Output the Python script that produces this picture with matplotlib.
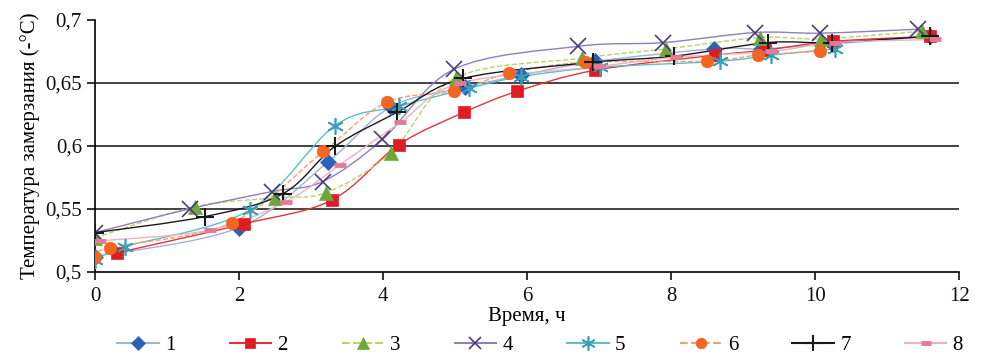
import matplotlib
matplotlib.use('Agg')
import matplotlib.pyplot as plt
from matplotlib.path import Path
from matplotlib.patches import PathPatch
from matplotlib.lines import Line2D
from matplotlib.ticker import FuncFormatter

plt.rcParams['font.family'] = ['Liberation Serif', 'DejaVu Serif']

# Данные (время, ч / температура замерзания, -°C)
x1 = [0, 2.0, 3.24, 4.11, 5.13, 5.92, 6.94, 8.59, 9.24, 10.25, 11.6]
y1 = [0.512, 0.535, 0.5875, 0.631, 0.6465, 0.656, 0.667, 0.677, 0.677, 0.681, 0.687]

x2 = [0.31, 2.07, 3.29, 4.22, 5.12, 5.86, 6.94, 8.61, 9.3, 10.25, 11.6]
y2 = [0.515, 0.538, 0.557, 0.601, 0.6265, 0.6433, 0.660, 0.672, 0.676, 0.683, 0.687]

x3 = [0, 1.39, 2.5, 3.21, 4.11, 5.01, 6.76, 7.93, 9.23, 10.08, 11.48]
y3 = [0.527, 0.5516, 0.5587, 0.5628, 0.5946, 0.654, 0.6696, 0.677, 0.686, 0.685, 0.691]

x4 = [0, 1.32, 2.45, 3.16, 3.99, 4.99, 6.70, 7.89, 9.17, 10.07, 11.42]
y4 = [0.531, 0.55, 0.5636, 0.5716, 0.605, 0.661, 0.679, 0.682, 0.690, 0.6895, 0.6926]

x5 = [0, 0.41, 2.15, 3.33, 4.22, 5.19, 5.92, 7.01, 8.68, 9.38, 10.28]
y5 = [0.509, 0.5197, 0.549, 0.616, 0.6314, 0.6457, 0.655, 0.6624, 0.6672, 0.672, 0.677]

x6 = [0, 0.2, 1.9, 3.17, 4.05, 4.99, 5.75, 6.8, 8.49, 9.2, 10.07]
y6 = [0.512, 0.519, 0.539, 0.5955, 0.6346, 0.6433, 0.6577, 0.6664, 0.6672, 0.672, 0.675]

x7 = [0, 1.52, 2.61, 3.33, 4.19, 5.11, 6.92, 8.04, 9.34, 10.23, 11.59]
y7 = [0.531, 0.5437, 0.562, 0.5995, 0.6265, 0.6535, 0.6664, 0.6712, 0.682, 0.682, 0.687]

x8 = [0.07, 1.59, 2.65, 3.4, 4.24, 5.06, 6.99, 8.07, 9.38, 10.28, 11.66]
y8 = [0.5245, 0.533, 0.5557, 0.585, 0.6186, 0.6497, 0.663, 0.6704, 0.675, 0.682, 0.6845]

labels = ['1', '2', '3', '4', '5', '6', '7', '8']

# стиль каждой серии: цвет линии, стиль линии, маркер, цвет маркера, размер
styles = [
    dict(lc='#9fb3d6', ls='-', m='D', mc='#2a62b8', ms=8, mew=0.5),
    dict(lc='#e8323a', ls='-', m='s', mc='#e01b24', ms=8, mew=0.5),
    dict(lc='#b9d36a', ls='--', m='^', mc='#6fa83a', ms=10, mew=0.5),
    dict(lc='#8e80bd', ls='-', m='x', mc='#4b3c7c', ms=11, mew=1.2),
    dict(lc='#62bccb', ls='-', m=(6, 2, 0), mc='#3a9fb8', ms=12, mew=1.2),
    dict(lc='#f2a070', ls='--', m='o', mc='#f26522', ms=9, mew=0.5),
    dict(lc='#1a1a1a', ls='-', m='+', mc='#1a1a1a', ms=13, mew=1.5),
    dict(lc='#eab3c3', ls='-', m='_', mc='#e57a98', ms=9, mew=3.5),
]

series = [(x1, y1), (x2, y2), (x3, y3), (x4, y4),
          (x5, y5), (x6, y6), (x7, y7), (x8, y8)]


def smooth_path(x, y):
    # сглаженная линия как в Excel (кривые Безье)
    pts = list(zip(x, y))
    verts = [pts[0]]
    codes = [Path.MOVETO]
    n = len(pts)
    for i in range(n - 1):
        p0 = pts[i - 1] if i > 0 else pts[i]
        p1 = pts[i]
        p2 = pts[i + 1]
        p3 = pts[i + 2] if i + 2 < n else pts[i + 1]
        c1 = (p1[0] + (p2[0] - p0[0]) / 6, p1[1] + (p2[1] - p0[1]) / 6)
        c2 = (p2[0] - (p3[0] - p1[0]) / 6, p2[1] - (p3[1] - p1[1]) / 6)
        verts += [c1, c2, p2]
        codes += [Path.CURVE4] * 3
    return Path(verts, codes)


fig = plt.figure(figsize=(9.91, 3.56), dpi=100)
ax = fig.add_axes([0.096, 0.237, 0.872, 0.707])

handles = []
for (xs, ys), st, lab in zip(series, styles, labels):
    patch = PathPatch(smooth_path(xs, ys), fill=False, edgecolor=st['lc'],
                      linestyle=st['ls'], linewidth=1.0, transform=ax.transData, zorder=2)
    ax.add_patch(patch)
    ax.plot(xs, ys, linestyle='none', marker=st['m'], markersize=st['ms'],
            markerfacecolor=st['mc'], markeredgecolor=st['mc'],
            markeredgewidth=st['mew'], zorder=3)
    handles.append(Line2D([0], [0], color=st['lc'], linestyle=st['ls'], linewidth=1.5,
                          marker=st['m'], markersize=st['ms'] * 0.85,
                          markerfacecolor=st['mc'], markeredgecolor=st['mc'],
                          markeredgewidth=st['mew'], label=lab))

ax.set_xlim(0, 12)
ax.set_ylim(0.5, 0.7)
ax.set_xticks([0, 2, 4, 6, 8, 10, 12])
ax.set_yticks([0.5, 0.55, 0.6, 0.65, 0.7])
ax.yaxis.set_major_formatter(FuncFormatter(lambda v, p: ('%g' % round(v, 2)).replace('.', ',')))

ax.grid(True, axis='y', color='#222222', linewidth=1.2)
ax.yaxis.get_gridlines()[-1].set_visible(False)
ax.yaxis.get_gridlines()[0].set_visible(False)
ax.set_axisbelow(True)

for s in ['top', 'right']:
    ax.spines[s].set_visible(False)
ax.spines['left'].set_linewidth(1.2)
ax.spines['bottom'].set_linewidth(1.2)
ax.tick_params(axis='both', direction='out', length=6, width=1.2, labelsize=15, colors='#111111')
ax.tick_params(axis='x', pad=5)

ax.set_xlabel('Время, ч', fontsize=15, labelpad=1)
ax.set_ylabel('Температура замерзания (-°C)', fontsize=15, labelpad=4)

fig.legend(handles=handles, loc='center', bbox_to_anchor=(0.545, 0.03), ncol=8,
           frameon=False, fontsize=15, handlelength=2.0, columnspacing=2.6,
           handletextpad=0.3)

plt.savefig('out.png', dpi=100)
